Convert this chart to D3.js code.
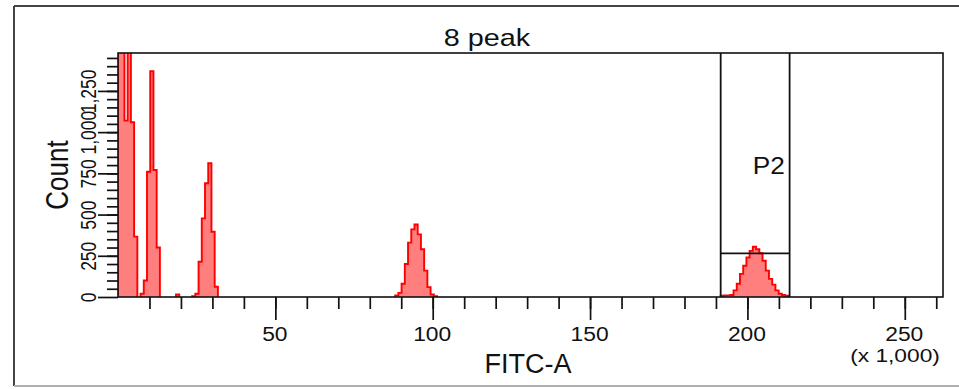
<!DOCTYPE html>
<html>
<head>
<meta charset="utf-8">
<script src="https://cdn.jsdelivr.net/npm/d3@7"></script>
<style>
  html, body { margin: 0; padding: 0; background: #fff; }
  svg { display: block; }
  text { font-family: "Liberation Sans", Arial, sans-serif; fill: #111; }
</style>
</head>
<body>
<svg id="chart" width="959" height="389"></svg>
<script>
// ---- data (FITC-A in thousands, 256 channels of 1.024k) ----
const chartTitle = "8 peak";
const xLabel = "FITC-A";
const xUnit = "(x 1,000)";
const yLabel = "Count";
const binWidth = 1.024;
const xMax = 262.144;
const yMax = 1480;
const xMajorTicks = [50, 100, 150, 200, 250];
const xMinorTicks = d3.range(10, 261, 10);
const yMajorTicks = [0, 250, 500, 750, 1000, 1250];
const yMinorTicks = d3.range(50, 1451, 50);

const peakStarts = [0, 7, 18, 23, 86, 187];
const peak1Counts = [3000, 1900, 1070, 1800, 1060, 366];
const peak2Counts = [20, 100, 760, 1370, 770, 300];
const peak3Counts = [15];
const peak4Counts = [5, 20, 214, 477, 690, 811, 396, 62];
const peak5Counts = [10, 25, 80, 200, 330, 410, 440, 380, 290, 160, 60, 15, 5];
const peak6Counts = [8, 10, 10, 12, 40, 80, 140, 190, 240, 280, 305, 290, 265, 220, 160, 110, 75, 40, 20, 12, 8];
const peakCounts = [peak1Counts, peak2Counts, peak3Counts, peak4Counts, peak5Counts, peak6Counts];

const gateName = "P2";
const gateRange = [191.5, 213.4];
const gateLevel = 265;

// ---- layout ----
const svg = d3.select("#chart");
const plot = { left: 118, right: 943, top: 53, bottom: 297 };

const x = d3.scaleLinear().domain([0, xMax]).range([plot.left, plot.right]);
const y = d3.scaleLinear().domain([0, yMax]).range([plot.bottom, plot.top]);

// outer frame
svg.append("line").attr("x1", 14).attr("x2", 959).attr("y1", 6).attr("y2", 6)
  .attr("stroke", "#444").attr("stroke-width", 2);
svg.append("line").attr("x1", 14).attr("x2", 14).attr("y1", 6).attr("y2", 386)
  .attr("stroke", "#444").attr("stroke-width", 2);
svg.append("line").attr("x1", 14).attr("x2", 959).attr("y1", 386).attr("y2", 386)
  .attr("stroke", "#b0b0b0").attr("stroke-width", 2);

// clip
svg.append("defs").append("clipPath").attr("id", "clip")
  .append("rect").attr("x", plot.left).attr("y", plot.top)
  .attr("width", plot.right - plot.left).attr("height", plot.bottom - plot.top);

const histG = svg.append("g").attr("clip-path", "url(#clip)");
const area = d3.area().curve(d3.curveStepAfter)
  .x(d => x(d.x)).y0(y(0)).y1(d => y(d.y));
const line = d3.line().curve(d3.curveStepAfter)
  .x(d => x(d.x)).y(d => y(d.y));

peakCounts.forEach((counts, k) => {
  const s = peakStarts[k];
  const pts = [{ x: s * binWidth, y: 0 }]
    .concat(counts.map((c, i) => ({ x: (s + i) * binWidth, y: c })))
    .concat([{ x: (s + counts.length) * binWidth, y: 0 }]);
  histG.append("path").attr("d", area(pts)).attr("fill", "#ff7f7f");
  histG.append("path").attr("d", line(pts)).attr("fill", "none")
    .attr("stroke", "#ff0000").attr("stroke-width", 1.9);
});

// gate
const gx0 = x(gateRange[0]), gx1 = x(gateRange[1]), gy = y(gateLevel);
const gateG = svg.append("g").attr("stroke", "#111").attr("stroke-width", 1.8);
gateG.append("line").attr("x1", gx0).attr("x2", gx0).attr("y1", plot.top).attr("y2", plot.bottom);
gateG.append("line").attr("x1", gx1).attr("x2", gx1).attr("y1", plot.top).attr("y2", plot.bottom);
gateG.append("line").attr("x1", gx0).attr("x2", gx1).attr("y1", gy).attr("y2", gy);
svg.append("text").text(gateName)
  .attr("transform", `translate(${gx0 + 32},173.5) scale(1.14,1)`)
  .attr("font-size", 23);

// plot frame
svg.append("rect").attr("x", plot.left).attr("y", plot.top)
  .attr("width", plot.right - plot.left).attr("height", plot.bottom - plot.top)
  .attr("fill", "none").attr("stroke", "#111").attr("stroke-width", 1.6);

// x axis
function styleAxis(g) {
  g.select(".domain").remove();
  g.selectAll(".tick line").attr("stroke", "#111").attr("stroke-width", 1.7);
}
svg.append("g").attr("transform", `translate(0,${plot.bottom})`)
  .call(d3.axisBottom(x).tickValues(xMinorTicks).tickSize(12).tickFormat(""))
  .call(styleAxis);
const xMaj = svg.append("g").attr("transform", `translate(0,${plot.bottom})`)
  .call(d3.axisBottom(x).tickValues(xMajorTicks).tickSize(23).tickFormat(d3.format("d")))
  .call(styleAxis);
xMaj.selectAll(".tick text")
  .attr("y", null).attr("dy", null)
  .attr("transform", "translate(-1,44) scale(1.17,1)")
  .attr("font-size", 19.5).attr("font-family", "Liberation Sans, Arial, sans-serif")
  .attr("fill", "#111").attr("text-anchor", "middle");

// y axis
svg.append("g").attr("transform", `translate(${plot.left},0)`)
  .call(d3.axisLeft(y).tickValues(yMinorTicks).tickSize(11).tickFormat(""))
  .call(styleAxis);
const yMaj = svg.append("g").attr("transform", `translate(${plot.left},0)`)
  .call(d3.axisLeft(y).tickValues(yMajorTicks).tickSize(20).tickFormat(d3.format(",")))
  .call(styleAxis);
yMaj.selectAll(".tick text")
  .attr("x", null).attr("dy", null)
  .attr("transform", "translate(-22,0) scale(1.25,1) rotate(-90)")
  .attr("font-size", 17.5).attr("font-family", "Liberation Sans, Arial, sans-serif")
  .attr("fill", "#111").attr("text-anchor", "middle");

// titles
svg.append("text").text(chartTitle)
  .attr("transform", "translate(487,46) scale(1.2,1)")
  .attr("text-anchor", "middle").attr("font-size", 24);
svg.append("text").text(xLabel)
  .attr("transform", "translate(528,373)")
  .attr("text-anchor", "middle").attr("font-size", 27);
svg.append("text").text(xUnit)
  .attr("transform", "translate(895,361.5) scale(1.3,1)")
  .attr("text-anchor", "middle").attr("font-size", 17.5);
svg.append("text").text(yLabel)
  .attr("transform", "translate(68,175) scale(1.2,1) rotate(-90)")
  .attr("text-anchor", "middle").attr("font-size", 26);
</script>
</body>
</html>
